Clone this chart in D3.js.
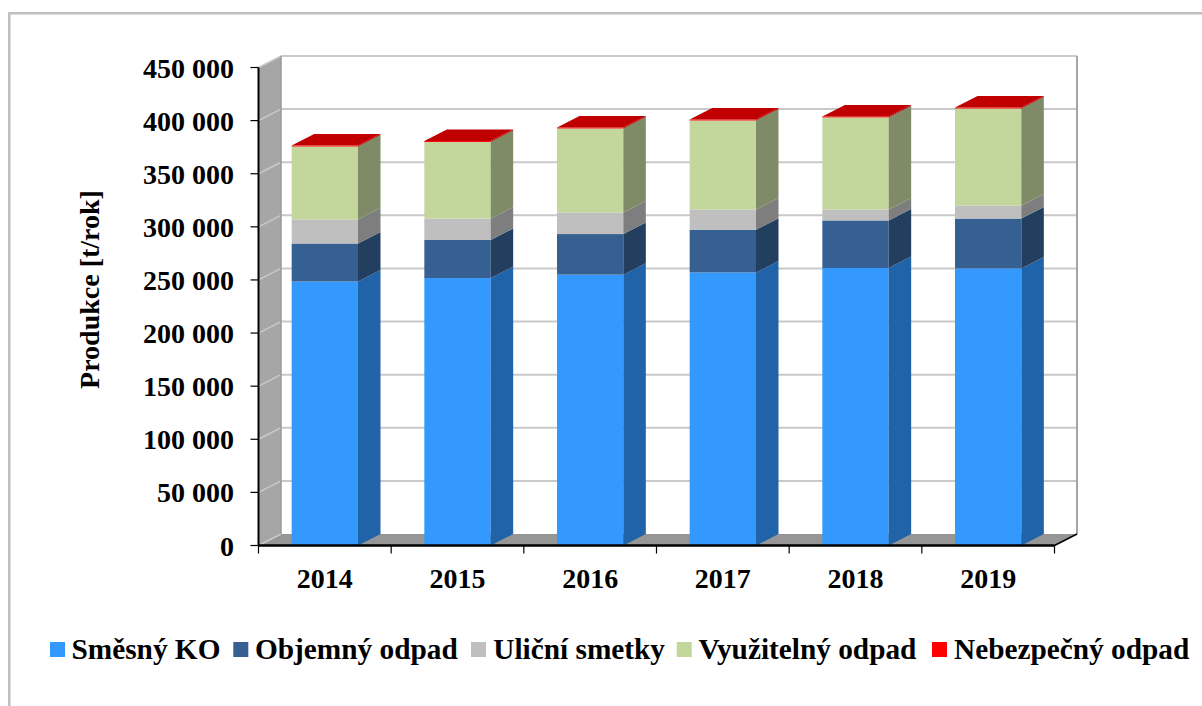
<!DOCTYPE html>
<html><head><meta charset="utf-8">
<script src="https://cdn.jsdelivr.net/npm/d3@7/dist/d3.min.js"></script>
<style>html,body{margin:0;padding:0;background:#fff}svg{display:block}text{font-family:"Liberation Serif",serif;font-weight:bold;fill:#000}</style>
</head><body><svg id="c" width="1202" height="706"></svg>
<script>
const years = ["2014","2015","2016","2017","2018","2019"];
const smesnyKO = [248500,251800,255000,257000,261200,260800];
const objemnyOdpad = [35800,35800,38200,40300,44800,47000];
const ulicniSmetky = [22700,20200,20300,19000,10300,12200];
const vyuzitelnyOdpad = [68600,72100,79100,83800,86700,91400];
const nebezpecnyOdpad = [900,900,900,900,900,900];
const seriesNames = ["Směsný KO","Objemný odpad","Uliční smetky","Využitelný odpad","Nebezpečný odpad"];
const seriesValues = [smesnyKO,objemnyOdpad,ulicniSmetky,vyuzitelnyOdpad,nebezpecnyOdpad];
const frontColors = ["#3399ff","#366092","#bfbfbf","#c3d69b","#ff0000"];
const sideColors = ["#2163a8","#233f60","#7e7e7e","#7f8b66","#a80000"];
const topColor = "#c00000";
const yTicks = d3.range(0,450001,50000);
const fmt = v => v===0 ? "0" : d3.format(",")(v).replace(/,/g," ");

const svg = d3.select("#c");
const x = d3.scaleBand().domain(years).range([258.5,1054.5]).paddingInner(0.5).paddingOuter(0.25);
const xEdge = d3.scaleLinear().domain([0,years.length]).range([258.5,1054.5]);
const y = d3.scaleLinear().domain([0,450000]).range([545.5,67.5]);
const dx = 22.5, dy = -11.5;
const pts = a => a.map(p=>p.join(",")).join(" ");

// frame
svg.append("path").attr("d","M9.3,706V13.3H1202").attr("fill","none").attr("stroke","#bfbfbf").attr("stroke-width",2.5);

// walls
const x0 = xEdge(0), x1 = xEdge(years.length);
svg.append("polygon").attr("points",pts([[x0,y(0)],[x0+dx,y(0)+dy],[x0+dx,y(450000)+dy],[x0,y(450000)]])).attr("fill","#a6a6a6");
svg.append("polygon").attr("points",pts([[x0,y(0)],[x0+dx,y(0)+dy],[x1+dx,y(0)+dy],[x1,y(0)]])).attr("fill","#969696");
// grid
svg.append("g").selectAll("line").data(yTicks.slice(1)).join("line")
  .attr("x1",x0+dx).attr("x2",x1+dx).attr("y1",d=>y(d)+dy).attr("y2",d=>y(d)+dy)
  .attr("stroke","#c9c9c9").attr("stroke-width",2);
svg.append("g").selectAll("line").data(yTicks).join("line")
  .attr("x1",x0).attr("x2",x0+dx).attr("y1",d=>y(d)).attr("y2",d=>y(d)+dy)
  .attr("stroke","#c9c9c9").attr("stroke-width",1.5);
svg.append("line").attr("x1",x0+dx).attr("x2",x0+dx).attr("y1",y(0)+dy).attr("y2",y(450000)+dy).attr("stroke","#9a9a9a").attr("stroke-width",1.5);
svg.append("line").attr("x1",x1+dx).attr("x2",x1+dx).attr("y1",y(0)+dy).attr("y2",y(450000)+dy).attr("stroke","#a6a6a6").attr("stroke-width",2);

// bars
const stacked = d3.stack().keys(d3.range(seriesNames.length)).value((d,k)=>seriesValues[k][d])(d3.range(years.length));
const bars = svg.append("g");
stacked.forEach((layer,k)=>{
  const g = bars.append("g");
  layer.forEach((d,i)=>{
    const l = x(years[i]), r = l + x.bandwidth();
    const yb = y(d[0]), yt = y(d[1]);
    g.append("rect").attr("x",l).attr("y",yt).attr("width",r-l).attr("height",yb-yt).attr("fill",frontColors[k]);
    g.append("polygon").attr("points",pts([[r,yb],[r+dx,yb+dy],[r+dx,yt+dy],[r,yt]])).attr("fill",sideColors[k]);
    if(k===seriesNames.length-1){
      g.append("polygon").attr("points",pts([[l,yt],[l+dx,yt+dy],[r+dx,yt+dy],[r,yt]])).attr("fill",topColor);
    }
  });
});

// axes
const yAxis = svg.append("g");
yAxis.append("line").attr("x1",x0).attr("x2",x0).attr("y1",y(0)).attr("y2",y(450000)).attr("stroke","#000").attr("stroke-width",2);
yAxis.selectAll("line.t").data(yTicks).join("line").attr("class","t")
  .attr("x1",x0-8).attr("x2",x0).attr("y1",d=>y(d)).attr("y2",d=>y(d)).attr("stroke","#000").attr("stroke-width",1.2);
yAxis.selectAll("text").data(yTicks).join("text").attr("x",234).attr("y",d=>y(d)+10)
  .attr("text-anchor","end").attr("font-size",28).text(fmt);
const xAxis = svg.append("g");
xAxis.append("line").attr("x1",x0).attr("x2",x1).attr("y1",y(0)).attr("y2",y(0)).attr("stroke","#000").attr("stroke-width",2.5);
xAxis.append("line").attr("x1",x1).attr("x2",x1+dx).attr("y1",y(0)).attr("y2",y(0)+dy).attr("stroke","#000").attr("stroke-width",1.5);
xAxis.selectAll("line.t").data(d3.range(years.length+1)).join("line").attr("class","t")
  .attr("x1",d=>xEdge(d)).attr("x2",d=>xEdge(d)).attr("y1",y(0)).attr("y2",y(0)+8).attr("stroke","#000").attr("stroke-width",1.2);
xAxis.selectAll("text").data(years).join("text").attr("x",d=>x(d)+x.bandwidth()/2).attr("y",588)
  .attr("text-anchor","middle").attr("font-size",28).text(d=>d);

svg.append("text").attr("transform","translate(99,289.5) rotate(-90)").attr("text-anchor","middle").attr("font-size",28).text("Produkce [t/rok]");

// legend
const legendX = [50,233.3,471,676.7,932], textX = [71.5,255,493.3,698.5,954];
const lg = svg.append("g");
seriesNames.forEach((n,i)=>{
  lg.append("rect").attr("x",legendX[i]).attr("y",642).attr("width",15).attr("height",15).attr("fill",frontColors[i]);
  lg.append("text").attr("x",textX[i]).attr("y",659.3).attr("font-size",29.3).text(n);
});
</script></body></html>
